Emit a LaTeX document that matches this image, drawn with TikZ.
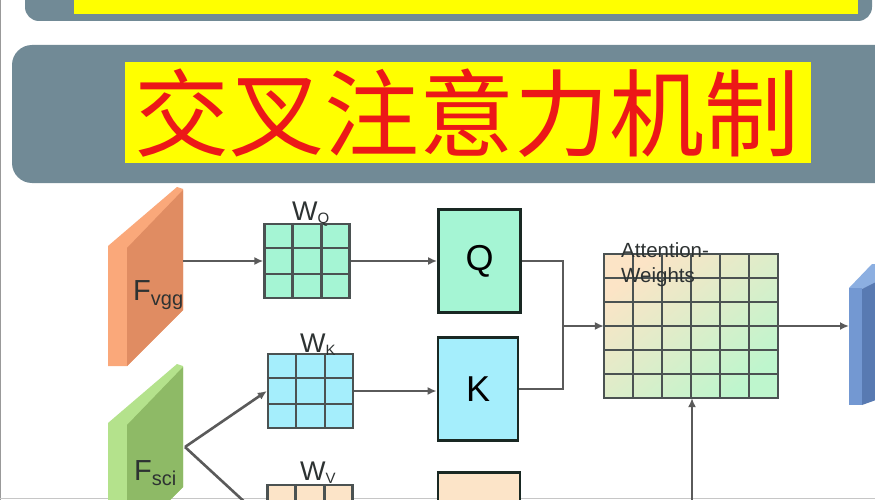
\documentclass[tikz,border=0pt]{standalone}
\usepackage{fontspec}
\setmainfont{Liberation Sans}
\newfontfamily\cjk{Noto Sans CJK SC}
\usetikzlibrary{arrows.meta,calc}
\definecolor{bannergray}{RGB}{113,138,150}
\definecolor{ttlred}{RGB}{236,24,24}
\definecolor{ylw}{RGB}{255,255,0}
\definecolor{orgL}{RGB}{250,168,122}
\definecolor{orgD}{RGB}{224,140,98}
\definecolor{grnL}{RGB}{180,226,140}
\definecolor{grnD}{RGB}{142,186,102}
\definecolor{mint}{RGB}{165,245,212}
\definecolor{cyanL}{RGB}{165,238,252}
\definecolor{peach}{RGB}{252,228,200}
\definecolor{attA}{RGB}{252,228,198}
\definecolor{attB}{RGB}{190,246,205}
\definecolor{gridln}{RGB}{75,82,82}
\definecolor{arr}{RGB}{90,90,90}
\definecolor{boxln}{RGB}{25,40,35}
\definecolor{txtg}{RGB}{45,50,50}
\definecolor{bluF}{RGB}{115,152,210}
\definecolor{bluD}{RGB}{88,122,178}
\definecolor{bluT}{RGB}{140,175,225}
\newcommand{\fz}[1]{\fontsize{#1}{#1}\selectfont}
\newcommand{\lowsub}[2]{\raisebox{-#1pt}{#2}}
\tikzset{
  wgrid/.style={draw=gridln, line width=2.3pt, inner sep=0pt, minimum width=85pt, minimum height=74pt},
  gline/.style={draw=gridln, line width=2.3pt},
  bigbox/.style={draw=boxln, line width=2.8pt, inner sep=0pt, minimum width=82pt, minimum height=103pt, font=\fz{36}},
  conn/.style={draw=arr, line width=2.6pt},
  arrow/.style={conn, -{Latex[length=9pt,width=8pt]}},
  wlabel/.style={anchor=base west, inner sep=0pt, text=txtg, font=\fz{27}},
  flabel/.style={anchor=base west, inner sep=0pt, text=txtg, font=\fz{29}}
}
\begin{document}
\begin{tikzpicture}[x=1pt,y=-1pt]
\useasboundingbox (0,0) rectangle (875,500);
\clip (0,0) rectangle (875,500);
\fill[white] (0,0) rectangle (875,500);
% frame lines
\draw[gray!80, line width=1.5pt] (0.7,0) -- (0.7,500);
\draw[gray!45, line width=1pt] (0,498.5) -- (875,498.5);
% top banner
\fill[bannergray, rounded corners=14pt] (25,-40) rectangle (872,21);
\fill[ylw] (74,-5) rectangle (858,14);
% title banner
\fill[bannergray, rounded corners=20pt] (12,45) rectangle (900,183);
\fill[ylw] (125,62) rectangle (811,163);
\node[inner sep=0pt, text=ttlred, font=\cjk\fz{95}] (title) at (467,113) {交叉注意力机制};
% F_vgg slab
\fill[orgL] (108,246) -- (177,187) -- (183,189) -- (183,310) -- (127,366) -- (108,366) -- cycle;
\fill[orgD] (127,248) -- (183,190) -- (183,310) -- (127,366) -- cycle;
\node[flabel] (fvgg) at (133,300) {F\lowsub{5}{\fz{20}vgg}};
\coordinate (fvggout) at (183,261);
% F_sci slab
\fill[grnL] (108,423) -- (177,364) -- (183,366) -- (183,487) -- (127,543) -- (108,543) -- cycle;
\fill[grnD] (127,425) -- (183,367) -- (183,487) -- (127,543) -- cycle;
\node[flabel] (fsci) at (134,480) {F\lowsub{5}{\fz{20}sci}};
\coordinate (fsciout) at (185,447);
% weight grids
\node[wgrid, fill=mint] (wq) at (307,261) {};
\node[wgrid, fill=cyanL] (wk) at (310.5,391) {};
\node[wgrid, fill=peach] (wv) at (310,522) {};
\foreach \g in {wq,wk,wv}{
  \foreach \t in {1,2}{
    \draw[gline] ($(\g.north west)!\t/3!(\g.north east)$) -- ($(\g.south west)!\t/3!(\g.south east)$);
    \draw[gline] ($(\g.north west)!\t/3!(\g.south west)$) -- ($(\g.north east)!\t/3!(\g.south east)$);
  }
}
\node[wlabel] (lq) at (292,220) {W\lowsub{3}{\fz{15}Q}};
\node[wlabel] (lk) at (300,352) {W\lowsub{3}{\fz{15}K}};
\node[wlabel] (lv) at (300,480) {W\lowsub{3}{\fz{15}V}};
% Q K V boxes
\node[bigbox, fill=mint] (q) at (479.5,261) {Q};
\node[bigbox, fill=cyanL, minimum width=80pt] (k) at (478,389) {K};
\node[bigbox, fill=peach] (v) at (479,524) {};
% attention grid
\node[draw=gridln, line width=2.3pt, inner sep=0pt, minimum width=172pt, minimum height=142pt] (att) at (691,326) {};
\shade[shading=axis, top color=attA, bottom color=attB, shading angle=40] (att.north west) rectangle (att.south east);
\foreach \t in {1,...,5}{
  \draw[gline] ($(att.north west)!\t/6!(att.north east)$) -- ($(att.south west)!\t/6!(att.south east)$);
  \draw[gline] ($(att.north west)!\t/6!(att.south west)$) -- ($(att.north east)!\t/6!(att.south east)$);
}
\draw[gline] (att.north west) rectangle (att.south east);
\node[anchor=base west, inner sep=0pt, text=txtg, font=\fz{20.5}] (attl1) at (621,257) {Attention-};
\node[anchor=base west, inner sep=0pt, text=txtg, font=\fz{20.5}] (attl2) at (621,282) {Weights};
% output slab
\fill[bluT] (849,288) -- (872,264) -- (876,264) -- (876,283) -- (862,289) -- cycle;
\fill[bluF] (849,288) rectangle (862,405);
\fill[bluD] (862,289) -- (876,282) -- (876,400) -- (862,405) -- cycle;
\coordinate (outin) at (849,327);
% connectors
\draw[arrow] (fvggout) -- (fvggout -| wq.west);
\draw[arrow] (wq.east) -- (wq.east -| q.west);
\draw[arrow] (fsciout) -- (wk.west);
\draw[arrow] (fsciout) -- (wv.west);
\draw[arrow] (wk.east) -- (wk.east -| k.west);
\coordinate (jn) at (563,326);
\draw[conn] (q.east) -| (jn) |- (k.east);
\draw[arrow] (jn) -- (jn -| att.west);
\coordinate (vbot) at (692,510);
\draw[arrow] (vbot) -- (att.south -| vbot);
\draw[arrow] (att.east) -- (att.east -| outin);
\end{tikzpicture}
\end{document}
